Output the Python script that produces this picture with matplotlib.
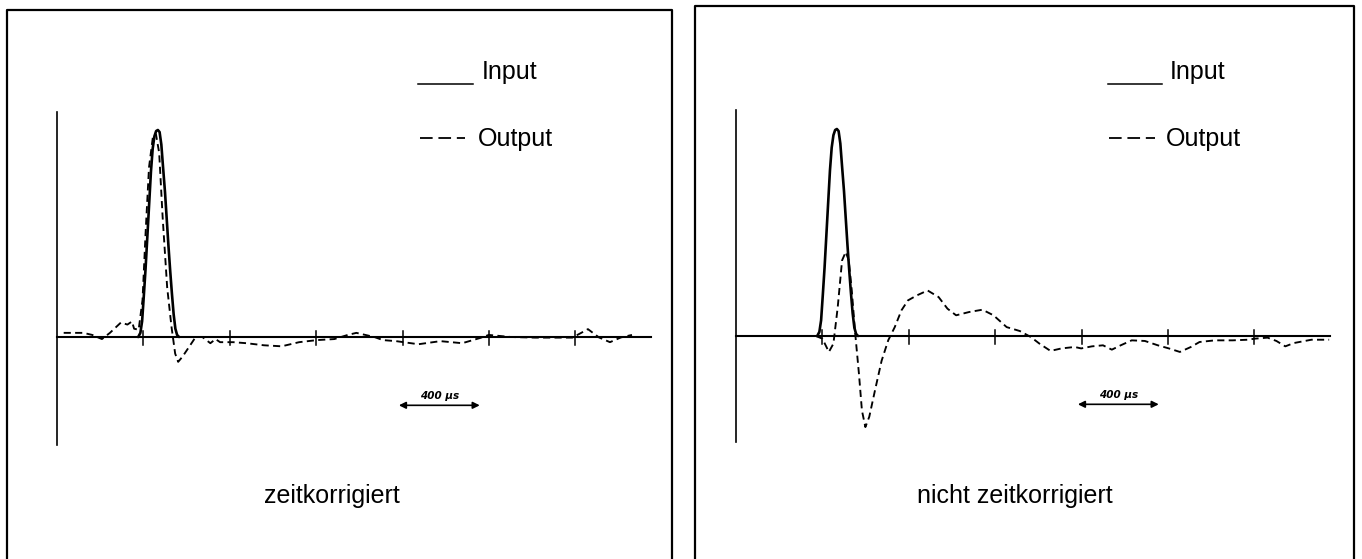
#!/usr/bin/env python3
"""
Input / Output pulse comparison: time-corrected vs. not time-corrected
"""

import numpy as np
import matplotlib
matplotlib.use('Agg')
import matplotlib.pyplot as plt
from matplotlib.patches import FancyArrowPatch
from matplotlib.lines import Line2D

plt.rcParams['font.family'] = ['Liberation Sans', 'DejaVu Sans']

W, H = 1362, 559

# time in microseconds from the vertical axis, amplitude relative to input peak
input_t = [376, 386, 394, 402, 410, 418, 427, 435, 443, 451, 459, 467,
           475, 483, 491, 500, 508, 516, 524, 532, 540, 548, 556, 565]
input_y = [0.0, 0.02, 0.076, 0.2, 0.33, 0.48, 0.65, 0.8, 0.91, 0.97, 0.995, 1.0,
           0.99, 0.93, 0.82, 0.7, 0.57, 0.44, 0.32, 0.21, 0.11, 0.04, 0.01, 0.0]

# left panel: zeitkorrigiert
out_left_t = [31, 122, 163, 208, 245, 296, 326, 347, 357, 378, 396, 410, 426, 445,
              458, 473, 489, 510, 530, 547, 561, 581, 612, 642, 673, 710, 734, 755,
              816, 877, 958, 1040, 1121, 1203, 1284, 1346, 1386, 1469, 1509, 1570,
              1673, 1775, 1876, 1958, 1999, 2101, 2213, 2386, 2427, 2458, 2509,
              2560, 2611, 2662]
out_left_y = [0.02, 0.02, 0.01, -0.01, 0.02, 0.07, 0.06, 0.075, 0.04, 0.035, 0.18,
              0.5, 0.82, 0.975, 0.98, 0.89, 0.58, 0.24, 0.05, -0.08, -0.12, -0.095,
              -0.047, 0.0, 0.0, -0.03, -0.01, -0.025, -0.025, -0.03, -0.04, -0.045,
              -0.025, -0.015, -0.01, 0.01, 0.02, 0.0, -0.015, -0.02, -0.035, -0.02,
              -0.03, -0.005, 0.01, 0.0, -0.003, -0.003, 0.02, 0.038, -0.002,
              -0.025, -0.002, 0.01]

# right panel: nicht zeitkorrigiert
out_right_t = [370, 400, 430, 451, 471, 491, 508, 522, 536, 552, 569, 583, 599, 617,
               644, 674, 705, 735, 766, 796, 837, 887, 938, 979, 1019, 1080, 1141,
               1192, 1253, 1314, 1365, 1405, 1456, 1507, 1568, 1598, 1648, 1699,
               1740, 1781, 1832, 1893, 1953, 2004, 2055, 2106, 2146, 2217, 2299,
               2370, 2400, 2461, 2502, 2543, 2583, 2664, 2746]
out_right_y = [0.0, -0.013, -0.077, -0.037, 0.14, 0.365, 0.406, 0.365, 0.22, 0.011,
               -0.18, -0.36, -0.44, -0.39, -0.26, -0.12, -0.02, 0.043, 0.124, 0.172,
               0.196, 0.22, 0.188, 0.132, 0.1, 0.116, 0.127, 0.1, 0.043, 0.024,
               -0.005, -0.037, -0.072, -0.06, -0.053, -0.06, -0.05, -0.045, -0.066,
               -0.045, -0.021, -0.024, -0.045, -0.06, -0.077, -0.053, -0.029,
               -0.021, -0.021, -0.018, -0.013, -0.008, -0.024, -0.05, -0.034,
               -0.018, -0.018]

tick_times = [400, 800, 1200, 1600, 2000, 2400]
titles = ['zeitkorrigiert', 'nicht zeitkorrigiert']
legend_labels = ['Input', 'Output']
scale_label = '400 µs'


def fx(x):
    return x / W


def fy(y):
    return 1 - y / H


fig = plt.figure(figsize=(W / 100, H / 100), dpi=100)

# panel geometry in pixels: axis origin, frame, legend, caption
panels = [
    dict(ox=57, oy=337, frame=(7, 10, 672), leg_x=482, line=(418, 473),
         dash=(420, 465), cap_x=332, top=1.087, bottom=-0.522,
         out_t=out_left_t, out_y=out_left_y),
    dict(ox=736, oy=336, frame=(695, 6, 1354), leg_x=1170, line=(1108, 1162),
         dash=(1109, 1155), cap_x=1015, top=1.092, bottom=-0.512,
         out_t=out_right_t, out_y=out_right_y),
]

us_per_px = 400 / 86.4
amp_px = 207.0

for p, title in zip(panels, titles):
    # axes covers 640 x 360 px with the data origin at (ox, oy)
    left_px, right_px = p['ox'] - 37, p['ox'] + 603
    top_px, bot_px = p['oy'] - 237, p['oy'] + 123
    ax = fig.add_axes([fx(left_px), fy(bot_px), (right_px - left_px) / W,
                       (bot_px - top_px) / H])
    ax.set_xlim(-37 * us_per_px, 603 * us_per_px)
    ax.set_ylim(-123 / amp_px, 237 / amp_px)
    ax.axis('off')

    # axes lines
    ax.plot([0, 0], [p['bottom'], p['top']], color='black', lw=1.2)
    ax.plot([0, 2750], [0, 0], color='black', lw=1.5)
    for t in tick_times:
        ax.plot([t, t], [-0.04, 0.03], color='black', lw=1.1)

    ax.plot(input_t, input_y, color='black', lw=1.9, solid_capstyle='round')
    ax.plot(p['out_t'], p['out_y'], color='black', lw=1.35,
            linestyle=(0, (3.8, 2.3)))

    # 400 us scale arrow
    arr = FancyArrowPatch((1570, -0.33), (1970, -0.33), arrowstyle='<|-|>',
                          mutation_scale=10, color='black', lw=1.2)
    ax.add_patch(arr)
    ax.text(1770, -0.285, scale_label, ha='center', va='center', fontsize=7.5,
            fontweight='bold', fontstyle='italic', family=['DejaVu Sans'])

    # frame (open at the bottom)
    x0, y0, x1 = p['frame']
    fig.add_artist(Line2D([fx(x0), fx(x0), fx(x1), fx(x1)],
                          [fy(H + 5), fy(y0), fy(y0), fy(H + 5)],
                          color='black', lw=1.6))

    # legend
    fig.add_artist(Line2D([fx(p['line'][0]), fx(p['line'][1])], [fy(84), fy(84)],
                          color='black', lw=1.1))
    fig.text(fx(p['leg_x']), fy(79), legend_labels[0], fontsize=18,
             va='baseline', ha='left')
    fig.add_artist(Line2D([fx(p['dash'][0]), fx(p['dash'][1])], [fy(138), fy(138)],
                          color='black', lw=1.3, linestyle=(0, (7.0, 3.2))))
    fig.text(fx(p['leg_x'] - 4), fy(146), legend_labels[1], fontsize=18,
             va='baseline', ha='left')

    fig.text(fx(p['cap_x']), fy(503), title, fontsize=18, va='baseline',
             ha='center')

plt.savefig('out.png', dpi=100)
